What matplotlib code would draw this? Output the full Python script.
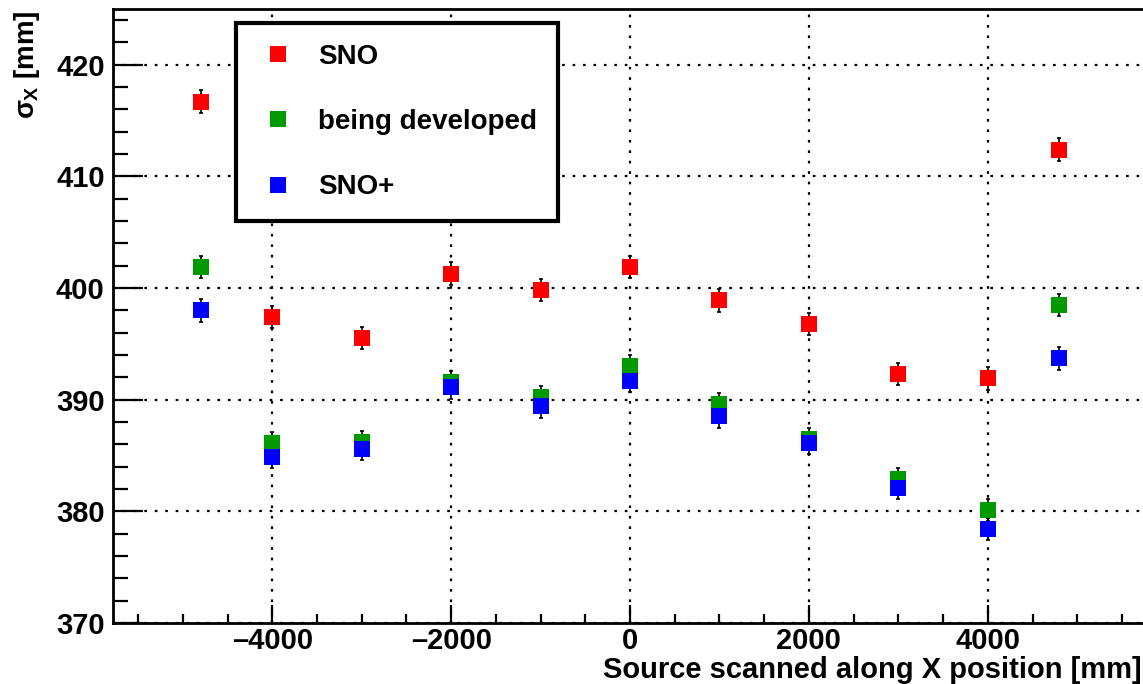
import matplotlib
matplotlib.use('Agg')
import matplotlib.pyplot as plt
from matplotlib.ticker import MultipleLocator, FuncFormatter

plt.rcParams['font.family'] = ['Liberation Sans', 'DejaVu Sans']
plt.rcParams['font.weight'] = 'bold'
plt.rcParams['mathtext.fontset'] = 'custom'
plt.rcParams['mathtext.rm'] = 'Liberation Sans'
plt.rcParams['mathtext.it'] = 'Liberation Sans'

# source positions [mm]
xpos = [-4800, -4000, -3000, -2000, -1000, 0, 1000, 2000, 3000, 4000, 4800]

# sigma_x [mm] per reconstruction
sno = [416.7, 397.4, 395.5, 401.3, 399.8, 401.9, 398.9, 396.8, 392.3, 391.9, 412.4]
dev = [401.9, 386.1, 386.2, 391.6, 390.2, 393.0, 389.6, 386.5, 382.9, 380.1, 398.5]
snoplus = [398.0, 384.9, 385.6, 391.1, 389.4, 391.7, 388.5, 386.1, 382.1, 378.4, 393.7]
err = [1.0] * len(xpos)

labels = ['SNO', 'being developed', 'SNO+']
colors = ['#ff0000', '#009a00', '#0000ff']

fig = plt.figure(figsize=(11.43, 6.84), dpi=100)
ax = fig.add_axes([0.0989, 0.0892, 0.9046, 0.8977])

handles = []
for ys, c, lab in zip([sno, dev, snoplus], colors, labels):
    ax.errorbar(xpos, ys, yerr=err, fmt='none', ecolor='black', elinewidth=1.2,
                capsize=1.5, capthick=1.2, zorder=3)
    h, = ax.plot(xpos, ys, 's', color=c, markersize=11.5, markeredgewidth=0,
                 linestyle='none', label=lab, zorder=4)
    handles.append(h)

ax.set_xlim(-5780, 5780)
ax.set_ylim(370, 425)

ax.xaxis.set_major_locator(MultipleLocator(2000))
ax.xaxis.set_minor_locator(MultipleLocator(500))
ax.yaxis.set_major_locator(MultipleLocator(10))
ax.yaxis.set_minor_locator(MultipleLocator(2))

ax.grid(True, which='major', color='black', linestyle=(0, (1.2, 3.5)), linewidth=1.6)
ax.set_axisbelow(True)

ax.tick_params(axis='both', which='both', direction='in', top=False, right=False,
               labelsize=21, width=1.6, colors='black')
ax.tick_params(axis='y', which='major', length=21.6, pad=6)
ax.tick_params(axis='y', which='minor', length=10.8)
ax.tick_params(axis='x', which='major', length=13, pad=3)
ax.tick_params(axis='x', which='minor', length=6.5)
ax.xaxis.set_major_formatter(FuncFormatter(
    lambda v, p: ('\u2013' + str(int(-v))) if v < 0 else str(int(v))))

for s in ax.spines.values():
    s.set_linewidth(2)

ax.set_xlabel('Source scanned along X position [mm]', fontsize=21, fontweight='bold')
ax.xaxis.set_label_coords(0.995, -0.054)
ax.xaxis.label.set_horizontalalignment('right')
ax.xaxis.label.set_verticalalignment('top')
ax.set_ylabel(r'$\sigma_{X}$ [mm]', fontsize=20, fontweight='bold')
ax.yaxis.set_label_coords(-0.0687, 0.998)
ax.yaxis.label.set_verticalalignment('bottom')
ax.yaxis.label.set_horizontalalignment('right')

leg = ax.legend(handles=handles, loc='upper left', bbox_to_anchor=(0.119, 0.977),
                fontsize=20, frameon=True, fancybox=False, borderpad=0.75,
                labelspacing=1.41, handlelength=1.52, handletextpad=0.68,
                borderaxespad=0, markerscale=1.0, framealpha=1.0)
leg.get_frame().set_edgecolor('black')
leg.get_frame().set_linewidth(3)
for t in leg.get_texts():
    t.set_fontweight('bold')

fig.savefig('out.png', dpi=100)
